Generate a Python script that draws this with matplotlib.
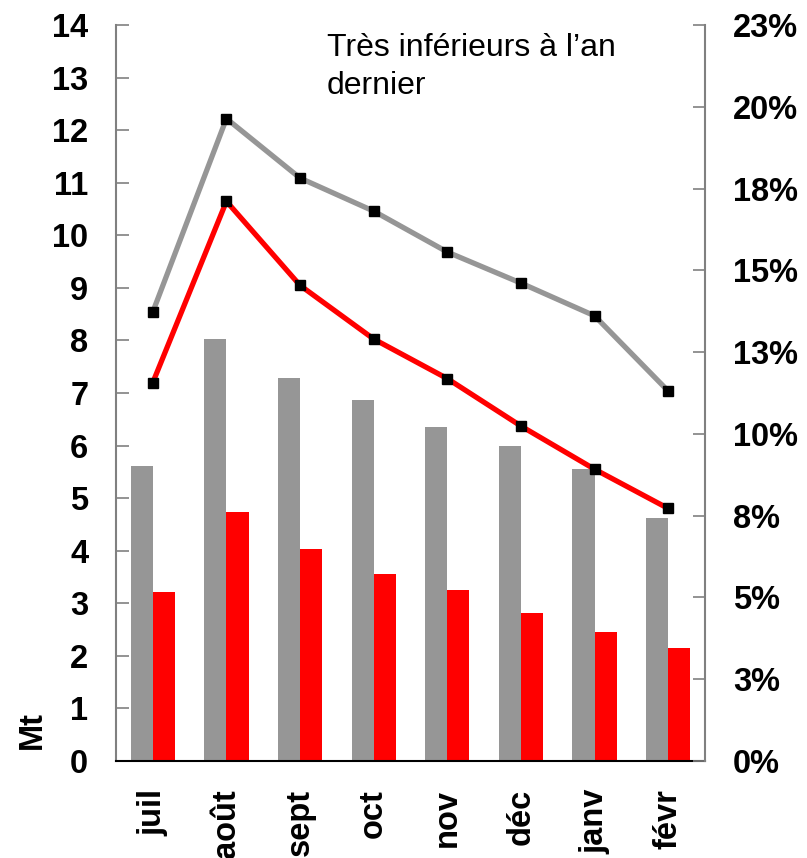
import matplotlib
matplotlib.use("Agg")
import numpy as np
from matplotlib import pyplot as plt

plt.rcParams['font.family'] = ['Liberation Sans', 'DejaVu Sans']

months = ['juil', 'août', 'sept', 'oct', 'nov', 'déc', 'janv', 'févr']
bars_prev = [5.61, 8.02, 7.28, 6.86, 6.35, 5.99, 5.55, 4.62]      # Mt, an dernier
bars_curr = [3.21, 4.73, 4.03, 3.56, 3.25, 2.81, 2.45, 2.15]      # Mt, cette année
pct_prev = [13.73, 19.64, 17.82, 16.81, 15.56, 14.61, 13.61, 11.31]
pct_curr = [11.57, 17.11, 14.54, 12.90, 11.69, 10.24, 8.92, 7.72]
left_ticks = list(range(0, 15))
right_ticks = [0, 2.5, 5, 7.5, 10, 12.5, 15, 17.5, 20, 22.5]
right_labels = ['0%', '3%', '5%', '8%', '10%', '13%', '15%', '18%', '20%', '23%']

GREY = '#969696'
RED = '#FF0000'

fig = plt.figure(figsize=(8.07, 8.58), dpi=100, facecolor='white')
ax = fig.add_axes([116 / 807, 1 - 761 / 858, (705 - 116) / 807, (761 - 25) / 858])
x = np.arange(len(months))
w = 0.3
ax.bar(x - w / 2, bars_prev, w, color=GREY, zorder=2)
ax.bar(x + w / 2, bars_curr, w, color=RED, zorder=2)
ax.set_xlim(-0.5, len(months) - 0.5)
ax.set_ylim(0, 14)
ax.set_yticks(left_ticks)
ax.set_yticklabels([str(t) for t in left_ticks], fontsize=23.5, fontweight='bold')
ax.set_xticks(x)
ax.set_xticklabels(months, rotation=90, fontsize=23.5, fontweight='bold')
ax.tick_params(axis='x', length=0, pad=20)
ax.tick_params(axis='y', direction='in', length=9, width=1.2, color='#808080', pad=20)
ax.spines['top'].set_visible(False)
ax.spines['right'].set_visible(False)
ax.spines['left'].set_color('#808080')
ax.spines['left'].set_linewidth(1.5)
ax.spines['bottom'].set_color('black')
ax.spines['bottom'].set_linewidth(1.5)

ax2 = ax.twinx()
ax2.plot(x, pct_prev, color=GREY, lw=3.8, marker='s', ms=7.5, mfc='black', mec='black', zorder=3)
ax2.plot(x, pct_curr, color=RED, lw=3.8, marker='s', ms=7.5, mfc='black', mec='black', zorder=3)
ax2.set_ylim(0, 22.5)
ax2.set_yticks(right_ticks)
ax2.set_yticklabels(right_labels, fontsize=23.5, fontweight='bold')
ax2.tick_params(axis='y', direction='in', length=9, width=1.2, color='#808080', pad=20)
for s in ['top', 'left', 'bottom']:
    ax2.spines[s].set_visible(False)
ax2.spines['right'].set_color('#808080')
ax2.spines['right'].set_linewidth(1.5)

fig.text(327 / 807, 1 - 33 / 858, 'Très inférieurs à l\u2019an\ndernier', fontsize=23,
         ha='left', va='top', linespacing=1.35)
fig.text(32 / 807, 1 - 730 / 858, 'Mt', fontsize=23.5, fontweight='bold', rotation=90,
         ha='center', va='center')

fig.savefig('out.png', dpi=100)
